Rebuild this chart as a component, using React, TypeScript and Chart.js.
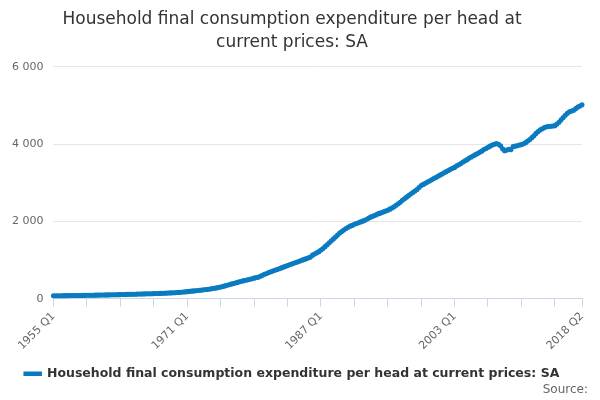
import React, { useEffect, useRef } from "react";
import { Chart, registerables } from "chart.js";
Chart.register(...registerables);

const startYear = 1955;
const endYear = 2018;
const shownLabels = ["1955 Q1", "1971 Q1", "1987 Q1", "2003 Q1", "2018 Q2"];
const yTicks = [0, 2000, 4000, 6000];
const seriesName = "Household final consumption expenditure per head at current prices: SA";
const values: number[] = [
  78, 79, 79, 80, 81, 82, 82, 83, 84, 85, 86, 86, 87, 88, 89, 90,
  91, 92, 93, 94, 95, 96, 97, 98, 99, 101, 102, 103, 104, 106, 107, 108,
  110, 111, 113, 114, 116, 117, 119, 120, 122, 124, 125, 127, 129, 130, 132, 133,
  135, 137, 139, 141, 143, 146, 148, 150, 153, 156, 159, 162, 166, 171, 175, 180,
  186, 193, 199, 205, 210, 215, 220, 226, 234, 241, 248, 256, 264, 273, 283, 292,
  305, 320, 335, 350, 365, 380, 395, 410, 425, 440, 455, 470, 482, 495, 508, 520,
  535, 550, 560, 585, 610, 635, 655, 680, 700, 720, 740, 760, 780, 800, 820, 840,
  860, 880, 900, 920, 940, 960, 980, 1000, 1020, 1040, 1060, 1080, 1130, 1160, 1190, 1220,
  1260, 1300, 1350, 1400, 1450, 1500, 1550, 1600, 1650, 1700, 1740, 1780, 1820, 1850, 1880, 1900,
  1930, 1950, 1970, 1990, 2010, 2030, 2060, 2090, 2120, 2140, 2160, 2190, 2210, 2230, 2250, 2270,
  2290, 2320, 2350, 2380, 2420, 2460, 2500, 2550, 2590, 2630, 2670, 2710, 2750, 2790, 2830, 2880,
  2930, 2960, 2990, 3020, 3050, 3080, 3110, 3140, 3170, 3200, 3230, 3260, 3290, 3320, 3350, 3380,
  3400, 3440, 3470, 3500, 3540, 3570, 3600, 3640, 3670, 3700, 3730, 3760, 3790, 3820, 3860, 3890,
  3920, 3950, 3980, 4000, 4020, 4000, 3960, 3880, 3830, 3850, 3870, 3860, 3940, 3950, 3960, 3980,
  3990, 4010, 4040, 4080, 4120, 4170, 4220, 4280, 4330, 4370, 4400, 4430, 4450, 4460, 4465, 4470,
  4480, 4520, 4570, 4630, 4690, 4750, 4800, 4840, 4860, 4880, 4920, 4960, 4990, 5020,
];

const labels: string[] = [];
for (let y = startYear; y <= endYear; y++) {
  for (let q = 1; q <= 4; q++) {
    if (labels.length < values.length) labels.push(`${y} Q${q}`);
  }
}

export default function App() {
  const ref = useRef<HTMLCanvasElement>(null);
  useEffect(() => {
    document.body.style.margin = "0";
    const last = labels.length - 1;
    const chart = new Chart(ref.current!, {
      type: "line",
      data: {
        labels,
        datasets: [{
          label: seriesName,
          data: values,
          borderColor: "#0a7bc1",
          backgroundColor: "#0a7bc1",
          borderWidth: 2.5,
          pointRadius: 1.3,
          pointHoverRadius: 2,
          tension: 0,
        }],
      },
      options: {
        animation: false,
        responsive: false,
        layout: { padding: { left: 2, right: 18, top: 0, bottom: 10 } },
        plugins: {
          title: {
            display: true,
            text: ["Household final consumption expenditure per head at", "current prices: SA"],
            color: "#333",
            font: { family: "DejaVu Sans", size: 17, weight: "normal", lineHeight: 1.35 },
            padding: { top: 8, bottom: 13 },
          },
          legend: {
            position: "bottom",
            labels: {
              color: "#333",
              font: { family: "DejaVu Sans", size: 12.5, weight: "bold" },
              boxWidth: 16,
              boxHeight: 2,
              padding: 12,
            },
          },
          tooltip: { enabled: false },
        },
        scales: {
          x: {
            ticks: {
              autoSkip: false,
              minRotation: 45,
              maxRotation: 45,
              color: "#666",
              font: { family: "DejaVu Sans", size: 11 },
              callback: (_v: any, i: number) => (shownLabels.includes(labels[i]) ? labels[i] : ""),
            },
            grid: {
              drawOnChartArea: false,
              tickLength: 8,
              color: (ctx: any) => (ctx.index % 16 === 0 || ctx.index === last ? "#ccd6eb" : "rgba(0,0,0,0)"),
            },
            border: { color: "#ccd6eb" },
          },
          y: {
            min: 0,
            max: 6000,
            afterBuildTicks: (s: any) => { s.ticks = yTicks.map((v) => ({ value: v })); },
            ticks: {
              color: "#666",
              font: { family: "DejaVu Sans", size: 11 },
              padding: 10,
              callback: (v: any) => Number(v).toString().replace(/\B(?=(\d{3})+(?!\d))/g, " "),
            },
            grid: { color: "#e6e6e6", drawTicks: false },
            border: { display: false },
          },
        },
      },
    });
    return () => chart.destroy();
  }, []);
  return (
    <div style={{ position: "relative", width: 600, height: 400 }}>
      <canvas ref={ref} width={600} height={400} />
      <div style={{ position: "absolute", right: 12, top: 382, fontFamily: "DejaVu Sans", fontSize: 12, color: "#666" }}>Source:</div>
    </div>
  );
}
